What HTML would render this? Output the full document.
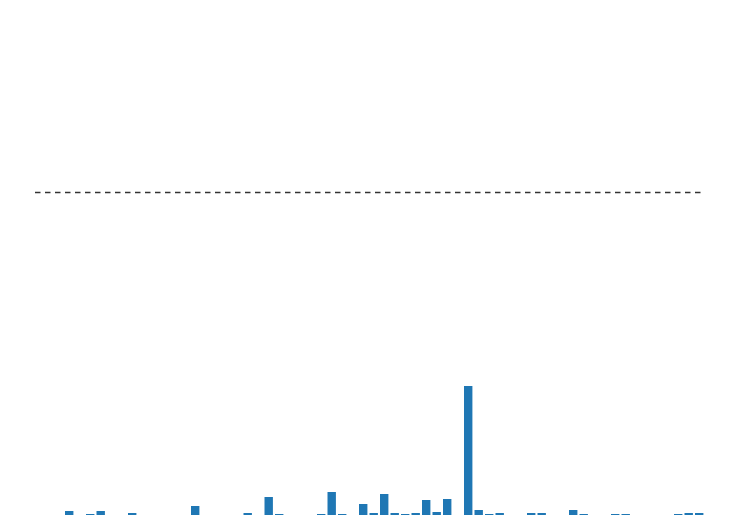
<!DOCTYPE html>
<html><head><meta charset="utf-8"><style>html,body{margin:0;padding:0;background:#fff;}svg{display:block}</style></head>
<body>
<svg id="chart" width="737" height="515" viewBox="0 0 737 515" xmlns="http://www.w3.org/2000/svg"></svg>
<script>
const categories = Array.from({length:64},(_,i)=>i);
const values = [0,0,0,4,0,1,4,0,0,2,0,0,0,0,0,9,0,0,0,0,2,0,18,1,0,0,0,1,23,1,0,11,2,21,2,1,2,15,3,16,0,129,5,1,2,0,0,2,2,0,0,5,1,0,0,1,1,0,0,0,0,1,2,2];
const thresholdValue = [322.5];
const svg = document.getElementById('chart');
const NS='http://www.w3.org/2000/svg';
const x0=33.5, slot=10.5, baseY=515, yScale=1;
const xPos = i => x0 + i*slot;
const yPos = v => baseY - v*yScale;
categories.forEach((c,i)=>{
  const v=values[i]; if(!v) return;
  const r=document.createElementNS(NS,'rect');
  r.setAttribute('x', xPos(i)); r.setAttribute('y', yPos(v));
  r.setAttribute('width', 8.4); r.setAttribute('height', baseY-yPos(v));
  r.setAttribute('fill','#1f77b4');
  
  
  svg.appendChild(r);
});
const l=document.createElementNS(NS,'line');
l.setAttribute('x1',35); l.setAttribute('x2',704);
l.setAttribute('y1',yPos(thresholdValue[0])); l.setAttribute('y2',yPos(thresholdValue[0]));
l.setAttribute('stroke','#333'); l.setAttribute('stroke-width',1.5); l.setAttribute('stroke-dasharray','5.5 4.5');


svg.appendChild(l);
</script>
</body></html>
